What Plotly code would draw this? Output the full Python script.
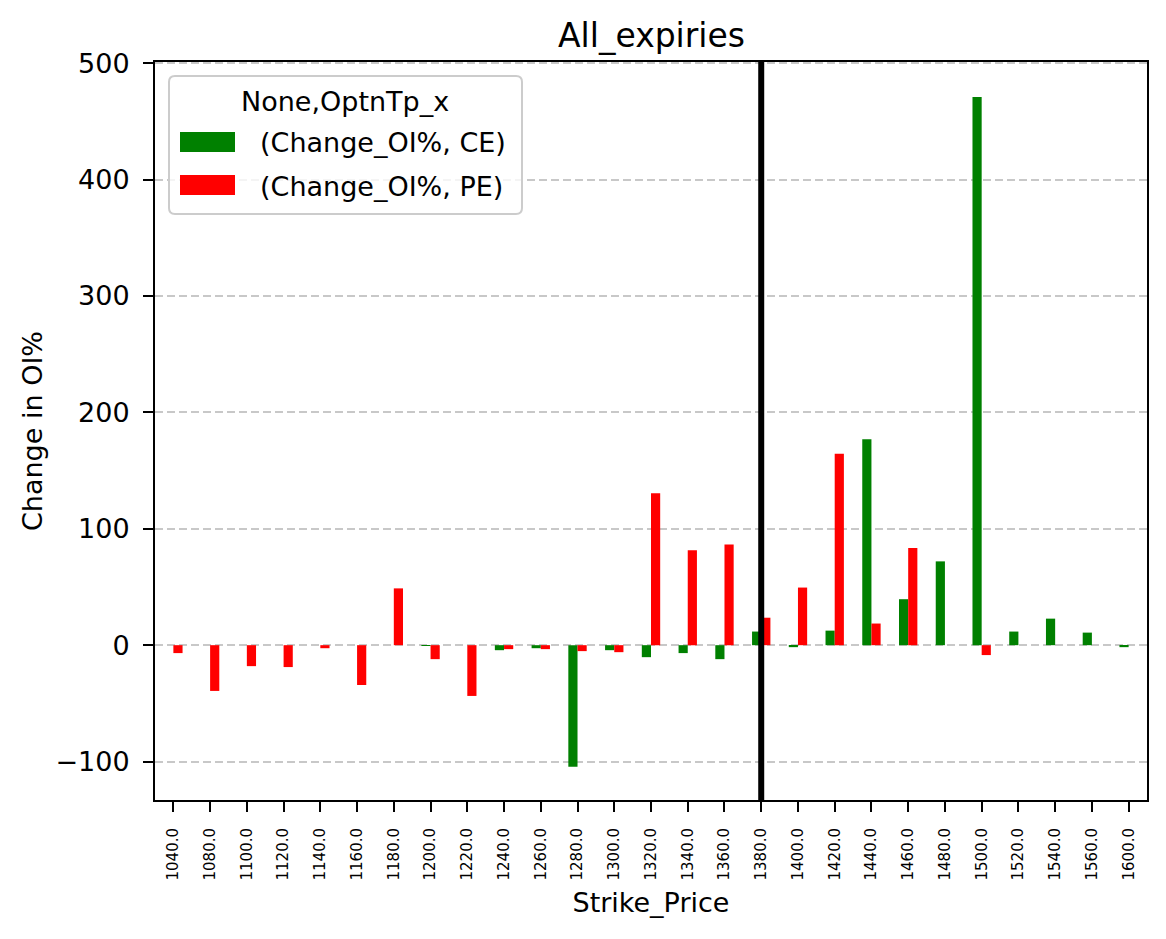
import plotly.graph_objects as go

strikes = [1040, 1080, 1100, 1120, 1140, 1160, 1180, 1200, 1220, 1240, 1260, 1280, 1300,
           1320, 1340, 1360, 1380, 1400, 1420, 1440, 1460, 1480, 1500, 1520, 1540, 1560, 1600]
tick_labels = [f"{s:.1f}" for s in strikes]

ce_change = [None, None, None, None, None, None, None, -0.5, None, -4.3, -2.6, -104.5, -4.3,
             -10.3, -6.8, -12.0, 11.7, -1.7, 12.5, 177.0, 39.5, 72.0, 471.0, 11.7, 22.8, 10.8, -1.7]
pe_change = [-6.8, -39.3, -18.0, -18.8, -2.6, -34.2, 48.8, -12.0, -43.6, -3.4, -3.4, -5.1, -6.0,
             130.5, 81.5, 86.5, 23.6, 49.5, 164.5, 18.6, 83.5, None, -8.5, None, None, None, None]
current_strike = 1380

FONT = "DejaVu Sans"
# plot area in pixels
L, R, T, B = 155, 1147, 62, 800
W, H = 1166, 939

def px(x):
    return (x - L) / (R - L)

def py(y):
    return (B - y) / (B - T)

xs = list(range(len(strikes)))

fig = go.Figure()
fig.add_trace(go.Bar(x=xs, y=ce_change, name="(Change_OI%, CE)", marker_color="#008000",
                     marker_line_width=0, showlegend=False))
fig.add_trace(go.Bar(x=xs, y=pe_change, name="(Change_OI%, PE)", marker_color="#ff0000",
                     marker_line_width=0, showlegend=False))

vx = strikes.index(current_strike)
fig.add_shape(type="line", xref="x", yref="paper", x0=vx, x1=vx, y0=0, y1=1,
              line=dict(color="black", width=6), layer="above")

# legend box (matplotlib style)
lx0, ly0, lx1, ly1, r = 169, 76, 522, 214, 6
rx, ry = r / (R - L), r / (B - T)
X0, X1, Y0, Y1 = px(lx0), px(lx1), py(ly1), py(ly0)
path = (f"M {X0+rx},{Y0} L {X1-rx},{Y0} Q {X1},{Y0} {X1},{Y0+ry} "
        f"L {X1},{Y1-ry} Q {X1},{Y1} {X1-rx},{Y1} L {X0+rx},{Y1} Q {X0},{Y1} {X0},{Y1-ry} "
        f"L {X0},{Y0+ry} Q {X0},{Y0} {X0+rx},{Y0} Z")
fig.add_shape(type="path", xref="paper", yref="paper", path=path,
              fillcolor="rgba(255,255,255,0.8)", line=dict(color="#cccccc", width=2), layer="above")
for (y0p, y1p, col) in [(132, 152, "#008000"), (175, 195, "#ff0000")]:
    fig.add_shape(type="rect", xref="paper", yref="paper", x0=px(180), x1=px(235),
                  y0=py(y1p), y1=py(y0p), fillcolor=col, line=dict(width=0), layer="above")
fig.add_annotation(xref="paper", yref="paper", x=px(345), y=py(101), text="None,OptnTp_x",
                   showarrow=False, xanchor="center", yanchor="middle",
                   font=dict(family=FONT, size=27, color="black"))
fig.add_annotation(xref="paper", yref="paper", x=px(258), y=py(142), text="(Change_OI%, CE)",
                   showarrow=False, xanchor="left", yanchor="middle",
                   font=dict(family=FONT, size=27, color="black"))
fig.add_annotation(xref="paper", yref="paper", x=px(258), y=py(186), text="(Change_OI%, PE)",
                   showarrow=False, xanchor="left", yanchor="middle",
                   font=dict(family=FONT, size=27, color="black"))

# title
fig.add_annotation(xref="paper", yref="paper", x=0.5, y=py(36), text="All_expiries",
                   showarrow=False, xanchor="center", yanchor="middle",
                   font=dict(family=FONT, size=33, color="black"))

fig.update_layout(
    width=W, height=H,
    margin=dict(l=L, r=W - R, t=T, b=H - B, autoexpand=False),
    paper_bgcolor="white", plot_bgcolor="white",
    barmode="group", bargap=0.5, bargroupgap=0,
    font=dict(family=FONT, color="black"),
)
fig.update_xaxes(
    range=[-0.5, len(strikes) - 0.5], tickmode="array", tickvals=xs, ticktext=tick_labels,
    tickangle=-90, tickfont=dict(size=15, family=FONT, color="black"),
    ticks="outside", ticklen=10, tickwidth=2, tickcolor="black", ticklabelstandoff=10,
    showline=True, linecolor="black", linewidth=2, mirror=True, showgrid=False, zeroline=False,
    title=dict(text="Strike_Price", font=dict(size=27, family=FONT, color="black"), standoff=14),
    automargin=False,
)
fig.update_yaxes(
    range=[-133, 501], tickvals=[-100, 0, 100, 200, 300, 400, 500],
    tickfont=dict(size=27, family=FONT, color="black"),
    ticks="outside", ticklen=10, tickwidth=2, tickcolor="black", ticklabelstandoff=8,
    showline=True, linecolor="black", linewidth=2, mirror=True,
    showgrid=True, gridcolor="#c8c8c8", gridwidth=2, griddash="8px,4px", zeroline=False,
    title=dict(text="Change in OI%", font=dict(size=27, family=FONT, color="black"), standoff=5),
    automargin=False,
)

fig.write_html("out.html")
